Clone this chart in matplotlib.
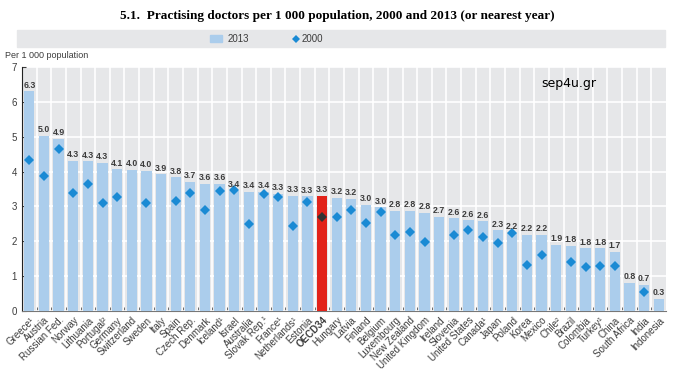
import numpy as np
import matplotlib
matplotlib.use("Agg")
import matplotlib.pyplot as plt
from matplotlib.patches import Rectangle
from matplotlib.lines import Line2D

plt.rcParams['font.family'] = ['Liberation Sans Narrow', 'Liberation Sans', 'DejaVu Sans']

countries = ["Greece¹", "Austria", "Russian Fed.", "Norway", "Lithuania", "Portugal²",
             "Germany", "Switzerland", "Sweden", "Italy", "Spain", "Czech Rep.", "Denmark",
             "Iceland¹", "Israel", "Australia", "Slovak Rep.¹", "France¹", "Netherlands¹",
             "Estonia", "OECD34", "Hungary", "Latvia", "Finland", "Belgium", "Luxembourg",
             "New Zealand", "United Kingdom", "Ireland", "Slovenia", "United States",
             "Canada¹", "Japan", "Poland", "Korea", "Mexico", "Chile²", "Brazil",
             "Colombia", "Turkey¹", "China", "South Africa", "India", "Indonesia"]

# 2013 bar heights and printed labels
v2013 = [6.30, 5.02, 4.93, 4.31, 4.29, 4.26, 4.06, 4.05, 4.03, 3.92, 3.83, 3.70, 3.64,
         3.64, 3.44, 3.41, 3.42, 3.35, 3.30, 3.29, 3.30, 3.24, 3.22, 3.05, 2.97, 2.87,
         2.87, 2.81, 2.71, 2.66, 2.60, 2.57, 2.31, 2.25, 2.19, 2.19, 1.90, 1.87, 1.80,
         1.80, 1.69, 0.80, 0.76, 0.34]
lab2013 = ["6.3", "5.0", "4.9", "4.3", "4.3", "4.3", "4.1", "4.0", "4.0", "3.9", "3.8",
           "3.7", "3.6", "3.6", "3.4", "3.4", "3.4", "3.3", "3.3", "3.3", "3.3", "3.2",
           "3.2", "3.0", "3.0", "2.8", "2.8", "2.8", "2.7", "2.6", "2.6", "2.6", "2.3",
           "2.2", "2.2", "2.2", "1.9", "1.8", "1.8", "1.8", "1.7", "0.8", "0.7", "0.3"]

# 2000 values (None = not available)
v2000 = [4.33, 3.86, 4.65, 3.39, 3.64, 3.10, 3.27, None, 3.10, None, 3.17, 3.38, 2.91,
         3.45, 3.46, 2.50, 3.35, 3.27, 2.45, 3.14, 2.70, 2.70, 2.90, 2.52, 2.85, 2.17,
         2.26, 1.98, None, 2.17, 2.31, 2.12, 1.95, 2.24, 1.32, 1.61, None, 1.40, 1.26,
         1.29, 1.29, None, 0.55, None]

bar_blue = "#abcdec"
dot_blue = "#1a8ad4"
oecd_red = "#e2231a"
bg_grey = "#e6e7e9"
txt = "#3c3c3c"

fig = plt.figure(figsize=(6.74, 3.75), dpi=100)
ax = fig.add_axes([22/674, 1 - 311/375, 644/674, 244/375])
ax.set_facecolor(bg_grey)

x = np.arange(len(countries))
oecd = countries.index("OECD34")
colors = [oecd_red if i == oecd else bar_blue for i in x]
ax.bar(x, v2013, width=0.7, color=colors, zorder=3)

for i, (v, s) in enumerate(zip(v2013, lab2013)):
    ax.text(i, v + 0.05, s, ha="center", va="bottom", fontsize=6.3, color=txt,
            fontweight="bold", zorder=5)

xs = [i for i, v in enumerate(v2000) if v is not None and i != oecd]
ys = [v2000[i] for i in xs]
ax.plot(xs, ys, "D", color=dot_blue, markersize=5, markeredgewidth=0, zorder=4)
ax.plot([oecd], [v2000[oecd]], "D", color="#333333", markersize=5,
        markeredgewidth=0, zorder=4)

ax.set_xlim(-0.5, len(countries) - 0.5)
ax.set_ylim(0, 7)
ax.set_yticks(range(0, 8))
ax.set_xticks(x)
ax.set_xticklabels(countries, rotation=45, ha="right", rotation_mode="anchor",
                   fontsize=7, color=txt)
for lbl in ax.get_xticklabels():
    if lbl.get_text() == "OECD34":
        lbl.set_fontweight("bold")
ax.tick_params(axis="x", length=0, pad=3)
ax.set_xticks(x[:-1] + 0.5, minor=True)
ax.tick_params(axis="x", which="minor", length=3, direction="in", color="#555555")
ax.tick_params(axis="y", labelsize=7, colors=txt, length=3, direction="in")
ax.grid(axis="y", color="white", linewidth=1.2, zorder=1)
ax.grid(axis="x", which="minor", color="white", linewidth=1.2, zorder=1)
for s in ["top", "right"]:
    ax.spines[s].set_visible(False)
ax.spines["left"].set_color("#222222")
ax.spines["bottom"].set_color("#777777")

# title and legend band
fig.text(0.5, 1 - 16/375, "5.1.  Practising doctors per 1 000 population, 2000 and 2013 (or nearest year)",
         ha="center", va="center", fontsize=9.5, fontweight="bold",
         family=["Liberation Serif", "DejaVu Serif"])
fig.patches.append(Rectangle((17/674, 1 - 47/375), 648/674, 17/375,
                             transform=fig.transFigure, color=bg_grey, zorder=0))
fig.patches.append(Rectangle((210/674, 1 - 42/375), 12/674, 7/375,
                             transform=fig.transFigure, color=bar_blue, zorder=1))
fig.text(228/674, 1 - 38.5/375, "2013", ha="left", va="center", fontsize=7, color=txt)
fig.lines.append(Line2D([296/674], [1 - 38.5/375], marker="D", color=dot_blue,
                        markersize=4, markeredgewidth=0, transform=fig.transFigure))
fig.text(302/674, 1 - 38.5/375, "2000", ha="left", va="center", fontsize=7, color=txt)
fig.text(5/674, 1 - 55/375, "Per 1 000 population", ha="left", va="center",
         fontsize=6.5, color=txt)
fig.text(541/674, 1 - 84/375, "sep4u.gr", ha="left", va="center", fontsize=9,
         color="black", family=["DejaVu Sans"])

fig.savefig("out.png", dpi=100)
